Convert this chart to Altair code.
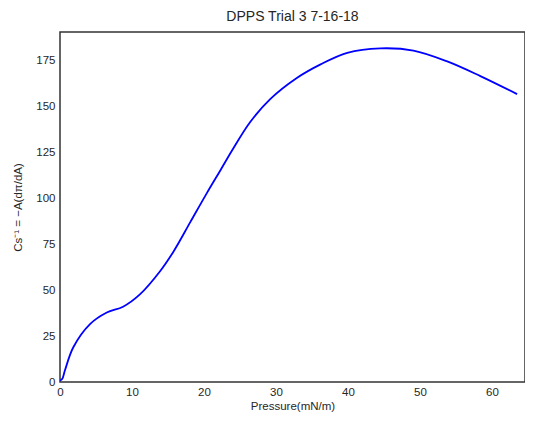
import altair as alt
import pandas as pd

pressure = [0.0, 0.3, 0.7, 1.85, 4.17, 6.5, 8.76, 11.1, 13.9, 15.8, 18.1, 20.4, 22.25,
            23.9, 26.4, 29.2, 32.9, 36.2, 39.9, 44.5, 49.1, 53.8, 58.4, 63.5]
cs_inv = [0.8, 1.6, 6.5, 18.9, 31.5, 37.8, 41.0, 47.7, 60.3, 71.2, 87.0, 102.8, 115.0,
          126.0, 141.4, 154.0, 165.5, 172.9, 179.2, 181.6, 180.4, 174.5, 166.5, 156.7]

x_ticks = [0, 10, 20, 30, 40, 50, 60]
y_ticks = [0, 25, 50, 75, 100, 125, 150, 175]

df = pd.DataFrame({"p": pressure, "c": cs_inv})

FONT = "Liberation Sans"
TXT = "#262626"

chart = (
    alt.Chart(df, title=alt.TitleParams("DPPS Trial 3 7-16-18", fontSize=14, font=FONT,
                                         fontWeight="normal", color=TXT, offset=8))
    .mark_line(color="#0000ff", strokeWidth=1.8, interpolate="catmull-rom", clip=True)
    .encode(
        x=alt.X("p:Q", scale=alt.Scale(domain=[0, 64.6], nice=False, zero=False),
                axis=alt.Axis(title="Pressure(mN/m)", values=x_ticks, grid=False, ticks=False,
                              domain=False, labelPadding=4, titlePadding=3,
                              labelFontSize=11.5, titleFontSize=11.5, labelFont=FONT, titleFont=FONT,
                              labelColor=TXT, titleColor=TXT, titleFontWeight="normal",
                              labelFlush=False)),
        y=alt.Y("c:Q", scale=alt.Scale(domain=[0, 190.5], nice=False, zero=False),
                axis=alt.Axis(title="Cs⁻¹ = −A(dπ/dA)", values=y_ticks, grid=False, ticks=False,
                              domain=False, labelPadding=5, titlePadding=12,
                              labelFontSize=11.5, titleFontSize=11.5, labelFont=FONT, titleFont=FONT,
                              labelColor=TXT, titleColor=TXT, titleFontWeight="normal",
                              labelFlush=False)),
    )
    .properties(width=465, height=350,
                autosize=alt.AutoSizeParams(type="none"),
                padding={"left": 52, "top": 24, "right": 0, "bottom": 33})
    .configure(background="white")
    .configure_view(stroke="#333333", strokeWidth=1.5)
)

chart.save("out.html", embed_options={"renderer": "svg", "actions": False})
